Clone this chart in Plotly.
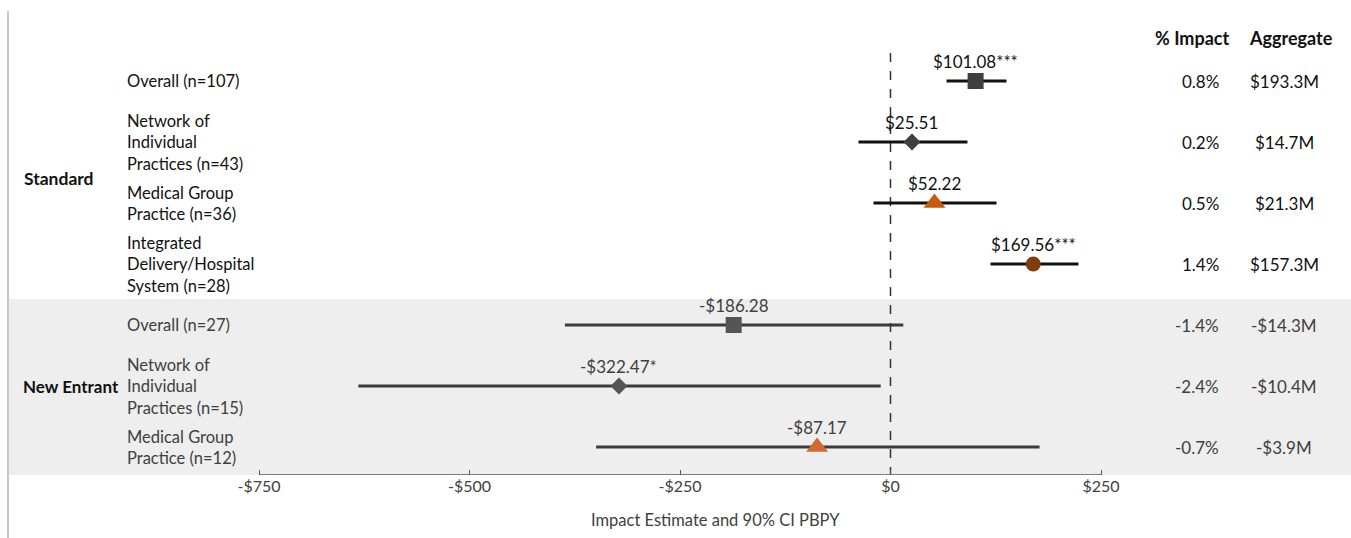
import plotly.graph_objects as go

# Subgroup rows (top to bottom)
groups = ["Standard", "Standard", "Standard", "Standard",
          "New Entrant", "New Entrant", "New Entrant"]
row_labels = [
    "Overall (n=107)",
    "Network of<br>Individual<br>Practices (n=43)",
    "Medical Group<br>Practice (n=36)",
    "Integrated<br>Delivery/Hospital<br>System (n=28)",
    "Overall (n=27)",
    "Network of<br>Individual<br>Practices (n=15)",
    "Medical Group<br>Practice (n=12)",
]
estimates = [101.08, 25.51, 52.22, 169.56, -186.28, -322.47, -87.17]
ci_low = [66.5, -38.0, -20.2, 118.8, -386.7, -632.0, -349.6]
ci_high = [137.8, 91.4, 125.9, 223.3, 15.2, -11.6, 177.0]
stars = ["***", "", "", "***", "", "*", ""]
pct_impact = ["0.8%", "0.2%", "0.5%", "1.4%", "-1.4%", "-2.4%", "-0.7%"]
aggregate = ["$193.3M", "$14.7M", "$21.3M", "$157.3M", "-$14.3M", "-$10.4M", "-$3.9M"]

tick_vals = [-750, -500, -250, 0, 250]
tick_text = ["-$750", "-$500", "-$250", "$0", "$250"]

FONT = "Lato, 'Open Sans', sans-serif"
W, H = 1351, 538
ys = list(range(len(estimates)))

marker_style = {
    0: dict(symbol="square", size=16, color="#3f3f3f"),
    1: dict(symbol="diamond", size=13, color="#3f3f3f"),
    2: dict(symbol="triangle-up", size=19, color="#c55a11"),
    3: dict(symbol="circle", size=15, color="#843c0c"),
    4: dict(symbol="square", size=16, color="#555555"),
    5: dict(symbol="diamond", size=13, color="#555555"),
    6: dict(symbol="triangle-up", size=19, color="#cf6a32"),
}


def text_color(i):
    return "#404040" if groups[i] == "New Entrant" else "#111111"


fig = go.Figure()

# Confidence intervals and point estimates
for i in ys:
    new_entrant = groups[i] == "New Entrant"
    fig.add_trace(go.Scatter(
        x=[ci_low[i], ci_high[i]], y=[i, i], mode="lines",
        line=dict(color="#3a3a3a" if new_entrant else "#111111", width=3),
        hoverinfo="skip", showlegend=False))
for i in ys:
    st = marker_style[i]
    fig.add_trace(go.Scatter(
        x=[estimates[i]], y=[i], mode="markers",
        marker=dict(symbol=st["symbol"], size=st["size"], color=st["color"],
                    line=dict(width=0)),
        showlegend=False))

# Value labels above each estimate
for i in ys:
    v = estimates[i]
    txt = ("-$" if v < 0 else "$") + f"{abs(v):.2f}" + stars[i]
    fig.add_annotation(x=v, y=i, text=txt, showarrow=False, yshift=20,
                       xanchor="center",
                       font=dict(family=FONT, size=17, color=text_color(i)))

# Row labels and side columns
x_row = 126 / W
for i in ys:
    col = text_color(i)
    fig.add_annotation(xref="paper", x=x_row, y=i, text=row_labels[i], showarrow=False,
                       xanchor="left", align="left", borderpad=0,
                       font=dict(family=FONT, size=16.5, color=col))
    fig.add_annotation(xref="paper", x=1221 / W, y=i, text=pct_impact[i], showarrow=False,
                       xanchor="right", font=dict(family=FONT, size=17, color=col))
    fig.add_annotation(xref="paper", x=1284 / W, y=i, text=aggregate[i], showarrow=False,
                       xanchor="center", font=dict(family=FONT, size=17, color=col))

fig.add_annotation(xref="paper", x=22 / W, y=1.6, text="<b>Standard</b>", showarrow=False,
                   xanchor="left", font=dict(family=FONT, size=17.5, color="#111111"))
fig.add_annotation(xref="paper", x=21 / W, y=5, text="<b>New Entrant</b>", showarrow=False,
                   xanchor="left", font=dict(family=FONT, size=17, color="#111111"))
fig.add_annotation(xref="paper", x=1192 / W, y=-0.705, text="<b>% Impact</b>", showarrow=False,
                   xanchor="center", font=dict(family=FONT, size=18, color="#111111"))
fig.add_annotation(xref="paper", x=1291 / W, y=-0.705, text="<b>Aggregate</b>", showarrow=False,
                   xanchor="center", font=dict(family=FONT, size=18, color="#111111"))

# Axis title
fig.add_annotation(xref="paper", yref="paper", x=715 / W, y=-45 / 475,
                   text="Impact Estimate and 90% CI PBPY", showarrow=False,
                   xanchor="center", yanchor="middle",
                   font=dict(family=FONT, size=16.5, color="#404040"))

# Pixel-to-data conversions for the full-width plotting area
px_per_unit = (1101 - 259) / 1000.0
x_min = -750 - 259 / px_per_unit
x_max = 250 + (W - 1101) / px_per_unit
y_top = (0 - 81) / 61.0
y_bot = (475 - 81) / 61.0

shapes = [
    # shaded New Entrant band
    dict(type="rect", xref="paper", yref="y", x0=8 / W, x1=1, y0=(299 - 81) / 61.0, y1=y_bot,
         fillcolor="#eeeeee", line=dict(width=0), layer="below"),
    # left border line
    dict(type="line", xref="paper", yref="paper", x0=8 / W, x1=8 / W, y0=-63 / 475,
         y1=(475 - 11) / 475, line=dict(color="#c8c8c8", width=2), layer="below"),
    # zero reference line
    dict(type="line", xref="x", yref="y", x0=0, x1=0, y0=(53 - 81) / 61.0, y1=y_bot,
         line=dict(color="#333333", width=1.5, dash="dash"), layer="below"),
    # x axis baseline
    dict(type="line", xref="x", yref="y", x0=-750, x1=250, y0=y_bot, y1=y_bot,
         line=dict(color="#595959", width=1.5)),
]

fig.update_layout(
    width=W, height=H,
    margin=dict(l=0, r=0, t=0, b=H - 475),
    plot_bgcolor="rgba(0,0,0,0)", paper_bgcolor="white",
    shapes=shapes,
    xaxis=dict(range=[x_min, x_max], tickvals=tick_vals, ticktext=tick_text,
               ticks="inside", ticklen=5, tickcolor="#595959", showgrid=False,
               zeroline=False, showline=False,
               tickfont=dict(family=FONT, size=16, color="#404040")),
    yaxis=dict(range=[y_bot, y_top], showgrid=False, zeroline=False,
               showticklabels=False, showline=False),
    font=dict(family=FONT),
)

fig.write_html("out.html")
